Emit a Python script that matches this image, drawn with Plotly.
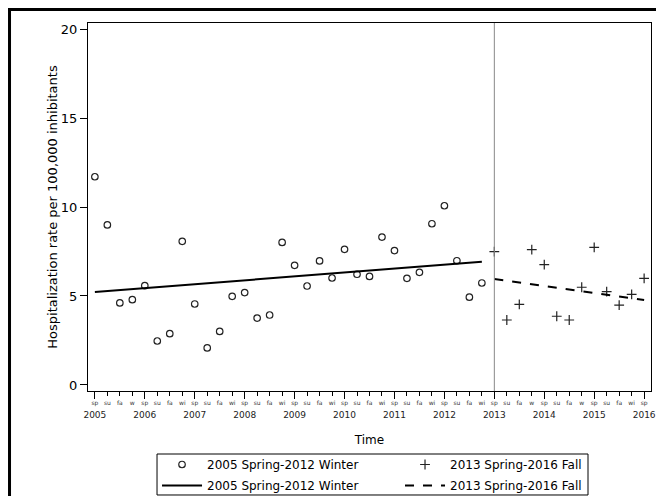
import plotly.graph_objects as go

# ---- data ----
season_labels = (["sp", "su", "fa", "w"] + ["sp", "su", "fa", "wi"] * 7 +
                 ["sp", "su", "fa", "w"] * 2 + ["sp", "su", "fa", "wi"] + ["sp"])
year_labels = ["2005", "2006", "2007", "2008", "2009", "2010", "2011", "2012",
               "2013", "2014", "2015", "2016"]
year_positions = [0, 4, 8, 12, 16, 20, 24, 28, 32, 36, 40, 44]

period1_name = "2005 Spring-2012 Winter"
period2_name = "2013 Spring-2016 Fall"

period1_x = list(range(0, 32))
period1_rate = [11.70, 8.99, 4.61, 4.79, 5.58, 2.47, 2.88, 8.07, 4.55, 2.08, 3.01, 4.98,
                5.19, 3.76, 3.93, 8.01, 6.72, 5.56, 6.97, 6.01, 7.62, 6.22, 6.10, 8.31,
                7.55, 5.99, 6.33, 9.06, 10.07, 6.98, 4.93, 5.73]
period2_x = list(range(32, 45))
period2_rate = [7.49, 3.65, 4.53, 7.60, 6.76, 3.86, 3.65, 5.49, 7.73, 5.24, 4.49, 5.09, 5.99]

trend1_x = [0, 31]
trend1_y = [5.22, 6.93]
trend2_x = [32, 44]
trend2_y = [5.96, 4.77]

breakpoint_x = 32

FONT = "DejaVu Sans"

fig = go.Figure()
fig.add_trace(go.Scatter(x=period1_x, y=period1_rate, mode="markers", name=period1_name,
                         legend="legend", legendgroup="a",
                         marker=dict(symbol="circle-open", size=6.5, color="#222",
                                     line=dict(width=1.2, color="#222"))))
fig.add_trace(go.Scatter(x=period2_x, y=period2_rate, mode="markers", name=period2_name,
                         xaxis="x2", legend="legend2", legendgroup="c",
                         marker=dict(symbol="cross-thin-open", size=7, color="#222",
                                     line=dict(width=1.2, color="#222"))))
fig.add_trace(go.Scatter(x=trend1_x, y=trend1_y, mode="lines", name=period1_name,
                         legend="legend", legendgroup="b",
                         line=dict(color="black", width=2)))
fig.add_trace(go.Scatter(x=trend2_x, y=trend2_y, mode="lines", name=period2_name,
                         xaxis="x2", legend="legend2", legendgroup="d",
                         line=dict(color="black", width=2, dash="dash")))

fig.add_vline(x=breakpoint_x, line=dict(color="#888", width=1))

xr = [-0.55, 44.55]
leg_common = dict(orientation="v", yanchor="top", y=-0.1603, xanchor="left",
                  bgcolor="rgba(0,0,0,0)", borderwidth=0, font=dict(size=12),
                  itemwidth=40, traceorder="grouped", tracegroupgap=2)
fig.update_layout(
    width=648, height=488, autosize=False,
    margin=dict(l=80, r=5, t=15, b=105, autoexpand=False),
    paper_bgcolor="white", plot_bgcolor="white",
    font=dict(family=FONT, color="black"),
    showlegend=True,
    xaxis=dict(range=xr, tickmode="array", tickvals=list(range(45)), ticktext=season_labels,
               ticks="outside", ticklen=4, tickcolor="black", tickwidth=1,
               tickfont=dict(size=6, color="#333"), ticklabelstandoff=2,
               showgrid=False, zeroline=False, automargin=False,
               showline=True, linecolor="black", linewidth=1, mirror=True,
               title=dict(text="Time", font=dict(size=12), standoff=29)),
    xaxis2=dict(range=xr, overlaying="x", anchor="y", side="bottom",
                tickmode="array", tickvals=year_positions, ticktext=year_labels,
                ticks="outside", ticklen=7, tickcolor="black", tickwidth=1,
                tickfont=dict(size=9, color="#222"), ticklabelstandoff=8,
                ticklabeloverflow="allow", automargin=False,
                showgrid=False, zeroline=False, showline=False),
    yaxis=dict(range=[-0.34, 20.34], tickmode="array", tickvals=[0, 5, 10, 15, 20],
               ticks="outside", ticklen=7, tickcolor="black", tickfont=dict(size=13),
               showgrid=False, zeroline=False, showline=True, linecolor="black",
               linewidth=1, mirror=True, automargin=False,
               title=dict(text="Hospitalization rate per 100,000 inhibitants",
                          font=dict(size=13), standoff=0)),
    legend=dict(x=0.1226, **leg_common),
    legend2=dict(x=0.5542, **leg_common),
)

# legend box
fig.add_shape(type="rect", xref="paper", yref="paper",
              x0=0.1226, x1=0.8881, y0=-0.2826, y1=-0.1712,
              line=dict(color="black", width=1), fillcolor="rgba(0,0,0,0)")
# outer frame
fig.add_shape(type="rect", xref="paper", yref="paper",
              x0=-0.1394, x1=1.06, y0=-0.36, y1=1.0367,
              line=dict(color="black", width=3), fillcolor="rgba(0,0,0,0)", layer="above")

fig.write_html("out.html", config={"displayModeBar": False})
